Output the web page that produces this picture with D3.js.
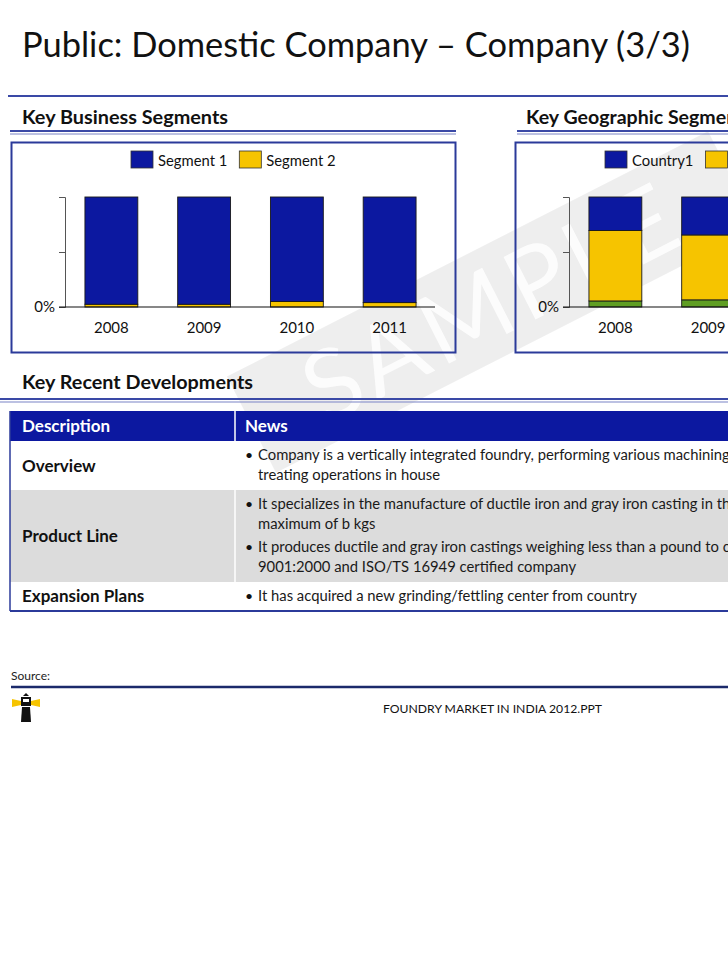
<!DOCTYPE html>
<html>
<head>
<meta charset="utf-8">
<script src="https://cdn.jsdelivr.net/npm/d3@7"></script>
<style>
  body { margin: 0; background: #fff; }
  svg { display: block; font-family: Lato, "Open Sans", sans-serif; }
</style>
</head>
<body>
<div id="slide"></div>
<script>
// Chart data
const years = ["2008", "2009", "2010", "2011"];
const segment1 = [97.5, 97.5, 95, 96];
const segment2 = [2.5, 2.5, 5, 4];
const country1 = [30.5, 34.5, 34, 36];
const country2 = [64, 59, 60, 58];
const country3 = [5.5, 6.5, 6, 6];
const yTicks = [0, 50, 100];

// Table text
const tableHead = ["Description", "News"];
const tableRows = [
    { label: "Overview", shade: false, bullets: [
        ["Company is a vertically integrated foundry, performing various machining, painting, assembly and heat",
         "treating operations in house"]
    ] },
    { label: "Product Line", shade: true, bullets: [
        ["It specializes in the manufacture of ductile iron and gray iron casting in the weight range of a kgs to a",
         "maximum of b kgs"],
        ["It produces ductile and gray iron castings weighing less than a pound to c pounds and is an ISO",
         "9001:2000 and ISO/TS 16949 certified company"]
    ] },
    { label: "Expansion Plans", shade: false, bullets: [
        ["It has acquired a new grinding/fettling center from country"]
    ] }
];

const colors = {
    blue: "#0c18a0",
    yellow: "#f6c400",
    green: "#5f9e23",
    frame: "#2b3a9a",
    rule: "#3a49a6",
    rowGray: "#dcdcdc"
};

const W = 728, H = 971;
const svg = d3.select("#slide").append("svg")
    .attr("width", W)
    .attr("height", H);

svg.append("rect").attr("width", W).attr("height", H).attr("fill", "#fff");

// Watermark band
const wm = svg.append("g").attr("transform", "translate(492,302) rotate(-27)");
wm.append("rect")
    .attr("x", -270).attr("y", -54).attr("width", 540).attr("height", 108)
    .attr("fill", "#000").attr("opacity", 0.065);
wm.append("text")
    .attr("text-anchor", "middle").attr("dy", "0.36em")
    .attr("font-size", 98).attr("letter-spacing", 6)
    .attr("fill", "#fff").attr("opacity", 0.85)
    .text("SAMPLE");

// Title
svg.append("text")
    .attr("x", 22).attr("y", 57)
    .attr("font-size", 34).attr("fill", "#111")
    .attr("textLength", 668).attr("lengthAdjust", "spacingAndGlyphs")
    .text("Public: Domestic Company \u2013 Company (3/3)");

function doubleRule(x1, x2, y) {
    svg.append("line").attr("x1", x1).attr("x2", x2).attr("y1", y).attr("y2", y)
        .attr("stroke", colors.rule).attr("stroke-width", 2);
    svg.append("line").attr("x1", x1).attr("x2", x2).attr("y1", y + 3).attr("y2", y + 3)
        .attr("stroke", "#7a84c6").attr("stroke-width", 1.2);
}

svg.append("line").attr("x1", 8).attr("x2", W).attr("y1", 96).attr("y2", 96)
    .attr("stroke", colors.rule).attr("stroke-width", 2);

// Section headings
svg.append("text").attr("x", 22).attr("y", 124)
    .attr("font-size", 18).attr("font-weight", "bold").attr("fill", "#111")
    .attr("textLength", 206).attr("lengthAdjust", "spacingAndGlyphs")
    .text("Key Business Segments");
svg.append("text").attr("x", 526).attr("y", 124)
    .attr("font-size", 18).attr("font-weight", "bold").attr("fill", "#111")
    .attr("textLength", 227).attr("lengthAdjust", "spacingAndGlyphs")
    .text("Key Geographic Segments");
doubleRule(10, 456, 131);
doubleRule(517, W, 131);

// Stacked bar charts
function drawChart(left, keys, series, legendKeys, legendX) {
    const box = { x: left, y: 142, w: 444, h: 210 };
    const g = svg.append("g");

    g.append("rect")
        .attr("x", box.x + 0.5).attr("y", box.y + 0.5)
        .attr("width", box.w).attr("height", box.h)
        .attr("fill", "none").attr("stroke", colors.frame).attr("stroke-width", 2);

    const rows = years.map((yr, i) => {
        const r = { year: yr };
        keys.forEach(k => r[k] = series[k].values[i]);
        return r;
    });
    const stacked = d3.stack().keys(keys)(rows);

    const x = d3.scaleBand()
        .domain(years)
        .range([box.x + 54, box.x + 425])
        .paddingInner(0.43)
        .paddingOuter(0.215);
    const y = d3.scaleLinear().domain([0, 100]).range([307, 197]);

    g.selectAll(".layer")
        .data(stacked)
        .join("g")
        .attr("fill", d => series[d.key].color)
        .selectAll("rect")
        .data(d => d)
        .join("rect")
        .attr("x", d => x(d.data.year))
        .attr("y", d => y(d[1]))
        .attr("width", x.bandwidth())
        .attr("height", d => y(d[0]) - y(d[1]))
        .attr("stroke", "#1a1a1a").attr("stroke-width", 0.9);

    // y axis
    const yAxis = g.append("g")
        .attr("transform", `translate(${box.x + 54},0)`)
        .call(d3.axisLeft(y).tickValues(yTicks).tickSize(6).tickPadding(4)
            .tickFormat(d => d === 0 ? "0%" : ""));
    yAxis.select(".domain").attr("stroke", "#555");
    yAxis.selectAll(".tick line").attr("stroke", "#555");
    yAxis.selectAll("text").attr("font-size", 15).attr("fill", "#111")
        .attr("font-family", "Lato, sans-serif");

    // x axis
    const xAxis = g.append("g")
        .attr("transform", "translate(0,307)")
        .call(d3.axisBottom(x).tickSize(0).tickPadding(15));
    xAxis.select(".domain").remove();
    xAxis.selectAll("text").attr("font-size", 15).attr("fill", "#111")
        .attr("font-family", "Lato, sans-serif");
    g.append("line")
        .attr("x1", x.range()[0] - 6).attr("x2", x.range()[1] - 1)
        .attr("y1", 307).attr("y2", 307)
        .attr("stroke", "#111").attr("stroke-width", 1.2);

    // legend
    const lg = g.append("g").attr("transform", `translate(${legendX},0)`);
    const items = lg.selectAll("g")
        .data(legendKeys)
        .join("g");
    items.append("rect")
        .attr("width", 22).attr("height", 17).attr("y", 151)
        .attr("fill", d => series[d].color)
        .attr("stroke", "#333").attr("stroke-width", 0.8);
    items.append("text")
        .attr("x", 27).attr("y", 166)
        .attr("font-size", 14.8).attr("fill", "#111")
        .text(d => series[d].label);
    let cx = 0;
    items.each(function () {
        const w = this.querySelector("text").getComputedTextLength();
        d3.select(this).attr("transform", `translate(${cx},0)`);
        cx += 27 + w + 12;
    });
}

drawChart(11, ["s2", "s1"], {
    s1: { label: "Segment 1", color: colors.blue, values: segment1 },
    s2: { label: "Segment 2", color: colors.yellow, values: segment2 }
}, ["s1", "s2"], 131);

drawChart(515, ["c3", "c2", "c1"], {
    c1: { label: "Country1", color: colors.blue, values: country1 },
    c2: { label: "Country2", color: colors.yellow, values: country2 },
    c3: { label: "Country3", color: colors.green, values: country3 }
}, ["c1", "c2", "c3"], 605);

// Key Recent Developments
svg.append("text").attr("x", 22).attr("y", 389)
    .attr("font-size", 18).attr("font-weight", "bold").attr("fill", "#111")
    .attr("textLength", 231).attr("lengthAdjust", "spacingAndGlyphs")
    .text("Key Recent Developments");
doubleRule(0, W, 399);

const tbl = { x: 10, top: 411, headH: 30, divX: 235, newsX: 245 };
svg.append("rect")
    .attr("x", tbl.x).attr("y", tbl.top).attr("width", W - tbl.x).attr("height", tbl.headH)
    .attr("fill", colors.blue);
svg.selectAll(".th")
    .data(tableHead)
    .join("text")
    .attr("x", (d, i) => i === 0 ? 22 : tbl.newsX)
    .attr("y", tbl.top + 21)
    .attr("font-size", 17).attr("font-weight", "bold").attr("fill", "#fff")
    .text(d => d);

let rowY = tbl.top + tbl.headH;
tableRows.forEach(row => {
    const top = rowY;
    let base = top + 19;
    const lines = [];
    row.bullets.forEach((b, bi) => {
        if (bi > 0) base += 3;
        b.forEach((t, li) => {
            lines.push({ text: t, first: li === 0, y: base });
            base += 20;
        });
    });
    const bottom = base - 20 + (lines.length === 1 ? 9 : 10);
    if (row.shade) {
        svg.append("rect").attr("x", tbl.x).attr("y", top)
            .attr("width", W - tbl.x).attr("height", bottom - top)
            .attr("fill", colors.rowGray);
    }
    svg.append("text")
        .attr("x", 22).attr("y", (top + bottom) / 2 + 6)
        .attr("font-size", 17).attr("font-weight", "bold").attr("fill", "#111")
        .text(row.label);
    lines.forEach(l => {
        if (l.first) {
            svg.append("text").attr("x", tbl.newsX).attr("y", l.y)
                .attr("font-size", 14).attr("fill", "#111").text("\u2022");
        }
        svg.append("text").attr("x", 258).attr("y", l.y)
            .attr("font-size", 14.8).attr("fill", "#1a1a1a").text(l.text);
    });
    rowY = bottom;
});

svg.append("line").attr("x1", tbl.divX).attr("x2", tbl.divX)
    .attr("y1", tbl.top).attr("y2", rowY)
    .attr("stroke", "#fff").attr("stroke-width", 1.5);
svg.append("line").attr("x1", tbl.x).attr("x2", tbl.x)
    .attr("y1", tbl.top).attr("y2", rowY + 1)
    .attr("stroke", colors.frame).attr("stroke-width", 1.5);
svg.append("line").attr("x1", tbl.x).attr("x2", W)
    .attr("y1", rowY + 1).attr("y2", rowY + 1)
    .attr("stroke", colors.frame).attr("stroke-width", 2);

// Footer
svg.append("text").attr("x", 11).attr("y", 680)
    .attr("font-size", 12).attr("fill", "#222").text("Source:");
svg.append("line").attr("x1", 11).attr("x2", W).attr("y1", 687).attr("y2", 687)
    .attr("stroke", "#1b2a6b").attr("stroke-width", 2.5);
svg.append("text").attr("x", 383).attr("y", 713)
    .attr("font-size", 11.5).attr("fill", "#111")
    .attr("textLength", 219).attr("lengthAdjust", "spacingAndGlyphs")
    .text("FOUNDRY MARKET IN INDIA 2012.PPT");

// Lighthouse logo
const logo = svg.append("g").attr("transform", "translate(12,693)");
logo.append("path").attr("d", "M0,6 L9,8 L9,12 L0,14 Z").attr("fill", colors.yellow);
logo.append("path").attr("d", "M28,6 L19,8 L19,12 L28,14 Z").attr("fill", colors.yellow);
logo.append("path").attr("d", "M11,3 L14,0 L17,3 Z").attr("fill", "#111");
logo.append("rect").attr("x", 9).attr("y", 4).attr("width", 10).attr("height", 9).attr("fill", "#111");
logo.append("rect").attr("x", 11).attr("y", 6).attr("width", 6).attr("height", 3).attr("fill", "#fff");
logo.append("path").attr("d", "M10,14 L18,14 L19,29 L9,29 Z").attr("fill", "#111");
</script>
</body>
</html>
